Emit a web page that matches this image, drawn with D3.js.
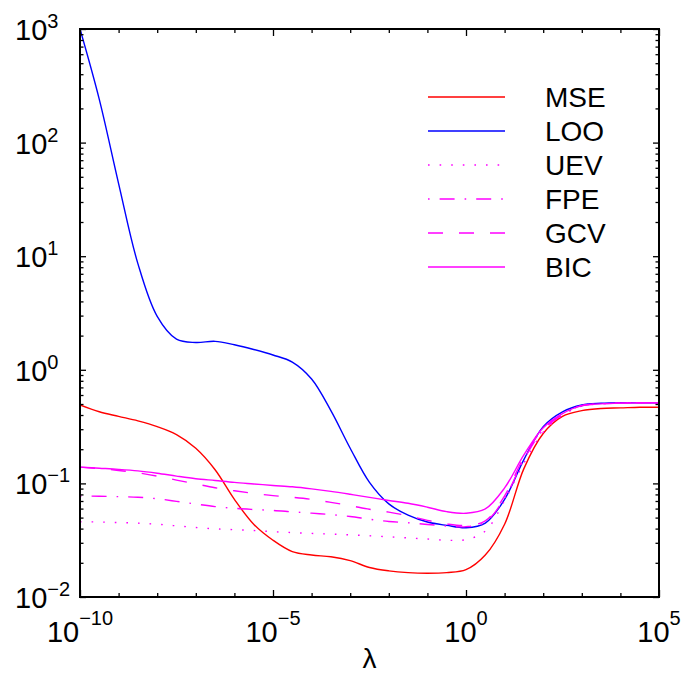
<!DOCTYPE html>
<html><head><meta charset="utf-8">
<script src="https://cdn.jsdelivr.net/npm/d3@7"></script>
<style>html,body{margin:0;padding:0;background:#fff;}svg{display:block;}</style>
</head><body>
<svg id="chart" width="684" height="675"></svg>
<script>
// λ sample points (half-decade steps from 1e-10 to 1e5)
const lambdas = [1e-10,3.16e-10,1e-9,3.16e-9,1e-8,3.16e-8,1e-7,3.16e-7,1e-6,3.16e-6,1e-5,3.16e-5,1e-4,3.16e-4,1e-3,3.16e-3,1e-2,3.16e-2,1e-1,3.16e-1,1,3.16,10,31.6,100,316,1e3,3.16e3,1e4,3.16e4,1e5];
const mse = [0.49,0.427,0.389,0.355,0.316,0.269,0.204,0.132,0.0724,0.0437,0.0316,0.0251,0.0234,0.0226,0.0209,0.0182,0.0170,0.0164,0.0162,0.0164,0.0174,0.0234,0.0437,0.135,0.275,0.389,0.437,0.457,0.462,0.468,0.468];
const loo = [1000,240,43.6,8.6,2.95,1.86,1.74,1.78,1.66,1.51,1.35,1.17,0.83,0.437,0.204,0.102,0.066,0.0525,0.0457,0.0427,0.0407,0.0447,0.0724,0.162,0.316,0.427,0.49,0.507,0.513,0.513,0.513];
const uev = [0.0460,0.0457,0.0452,0.0447,0.0437,0.0423,0.0409,0.0398,0.0391,0.0385,0.0376,0.0369,0.0363,0.0358,0.0352,0.0346,0.0339,0.0331,0.0324,0.0316,0.0320,0.0380,0.0708,0.151,0.282,0.398,0.479,0.501,0.509,0.513,0.513];
const fpe = [0.0774,0.0771,0.0764,0.0755,0.0733,0.0695,0.0658,0.0625,0.0603,0.0589,0.0578,0.0562,0.0547,0.0531,0.0511,0.0484,0.0462,0.0450,0.0435,0.0422,0.0416,0.0457,0.0741,0.162,0.295,0.403,0.481,0.501,0.509,0.513,0.513];
const gcv = [0.139,0.135,0.130,0.124,0.116,0.107,0.0989,0.0916,0.0861,0.0817,0.078,0.0755,0.0724,0.0681,0.0637,0.0592,0.0558,0.0519,0.0473,0.0439,0.0427,0.0468,0.0776,0.170,0.302,0.407,0.484,0.501,0.509,0.513,0.513];
const bic = [0.139,0.136,0.133,0.129,0.123,0.116,0.110,0.106,0.102,0.0989,0.0959,0.0933,0.0895,0.0851,0.0802,0.0753,0.0708,0.0668,0.0617,0.0564,0.0546,0.0596,0.0912,0.178,0.309,0.412,0.484,0.501,0.509,0.513,0.513];

const seriesNames = ["MSE","LOO","UEV","FPE","GCV","BIC"];
const seriesValues = [mse, loo, uev, fpe, gcv, bic];
const seriesColors = ["#ff0000","#0000ff","#ff00ff","#ff00ff","#ff00ff","#ff00ff"];
const seriesDash = [null, null, "1.6,10", "1.6,10,15,10", "15,16", null];

const xTickExps = [-10,-5,0,5];
const yTickExps = [-2,-1,0,1,2,3];

const svg = d3.select("#chart");
const L = 80, R = 659, T = 29, B = 597;
const x = d3.scaleLog().domain([1e-10, 1e5]).range([L, R]);
const y = d3.scaleLog().domain([1e-2, 1e3]).range([B, T]);
const font = "'Liberation Sans', Arial, Helvetica, sans-serif";

svg.append("defs").append("clipPath").attr("id","clip")
  .append("rect").attr("x",L).attr("y",T-1).attr("width",R-L).attr("height",B-T+2);

// lines
const line = d3.line().x((d,i)=>x(lambdas[i])).y(d=>y(d)).curve(d3.curveCatmullRom.alpha(0.5));
const g = svg.append("g").attr("clip-path","url(#clip)");
seriesValues.forEach((vals,k)=>{
  g.append("path").datum(vals).attr("d", line)
    .attr("fill","none").attr("stroke", seriesColors[k]).attr("stroke-width",1.4)
    .attr("stroke-dasharray", seriesDash[k]);
});

// axes ticks (inward)
const decades = d3.range(-10,6).map(e=>Math.pow(10,e));
const majorX = xTickExps.map(e=>Math.pow(10,e));
const minorX = decades.filter(v=>!majorX.some(m=>Math.abs(Math.log10(m)-Math.log10(v))<1e-6));
const majorY = yTickExps.map(e=>Math.pow(10,e));
const minorY = [];
for (let e=-2;e<3;e++) for (let m=2;m<=9;m++) minorY.push(m*Math.pow(10,e));

function ax(gen, vals, size, tx, ty){
  const a = svg.append("g").attr("transform",`translate(${tx},${ty})`)
    .call(gen.tickValues(vals).tickSize(size).tickFormat(""));
  a.select(".domain").remove();
  a.selectAll("line").attr("stroke","#000").attr("stroke-width",1.3);
}
ax(d3.axisBottom(x), majorX, -7, 0, B);
ax(d3.axisBottom(x), minorX, -4, 0, B);
ax(d3.axisTop(x), majorX, -7, 0, T);
ax(d3.axisTop(x), minorX, -4, 0, T);
ax(d3.axisLeft(y), majorY, -6, L, 0);
ax(d3.axisLeft(y), minorY, -3.5, L, 0);
ax(d3.axisRight(y), majorY, -6, R, 0);
ax(d3.axisRight(y), minorY, -3.5, R, 0);

// box
svg.append("rect").attr("x",L).attr("y",T).attr("width",R-L).attr("height",B-T)
  .attr("fill","none").attr("stroke","#000").attr("stroke-width",2);

// tick labels
const supTxt = e => (e<0 ? "\u2212"+Math.abs(e) : ""+e);
yTickExps.forEach(e=>{
  const t = svg.append("text").attr("x",15).attr("y", y(Math.pow(10,e))+11)
    .attr("font-family",font).attr("font-size",29).attr("fill","#000");
  t.append("tspan").text("10");
  t.append("tspan").attr("dy",-12).attr("font-size",20).text(supTxt(e));
});
xTickExps.forEach(e=>{
  const t = svg.append("text").attr("x", x(Math.pow(10,e))).attr("y", 642)
    .attr("text-anchor","middle").attr("font-family",font).attr("font-size",29).attr("fill","#000");
  t.append("tspan").text("10");
  t.append("tspan").attr("dy",-17).attr("font-size",20).text(supTxt(e));
});

// x label
svg.append("text").attr("x",(L+R)/2).attr("y",668).attr("text-anchor","middle")
  .attr("font-family",font).attr("font-size",28).text("\u03bb");

// legend
const lg = svg.append("g");
seriesNames.forEach((n,k)=>{
  const yy = 97 + k*34;
  lg.append("line").attr("x1",428).attr("x2",505).attr("y1",yy).attr("y2",yy)
    .attr("stroke",seriesColors[k]).attr("stroke-width",1.4).attr("stroke-dasharray",seriesDash[k]);
  lg.append("text").attr("x",545).attr("y",yy+10).attr("font-family",font).attr("font-size",28).text(n);
});
</script>
</body></html>
